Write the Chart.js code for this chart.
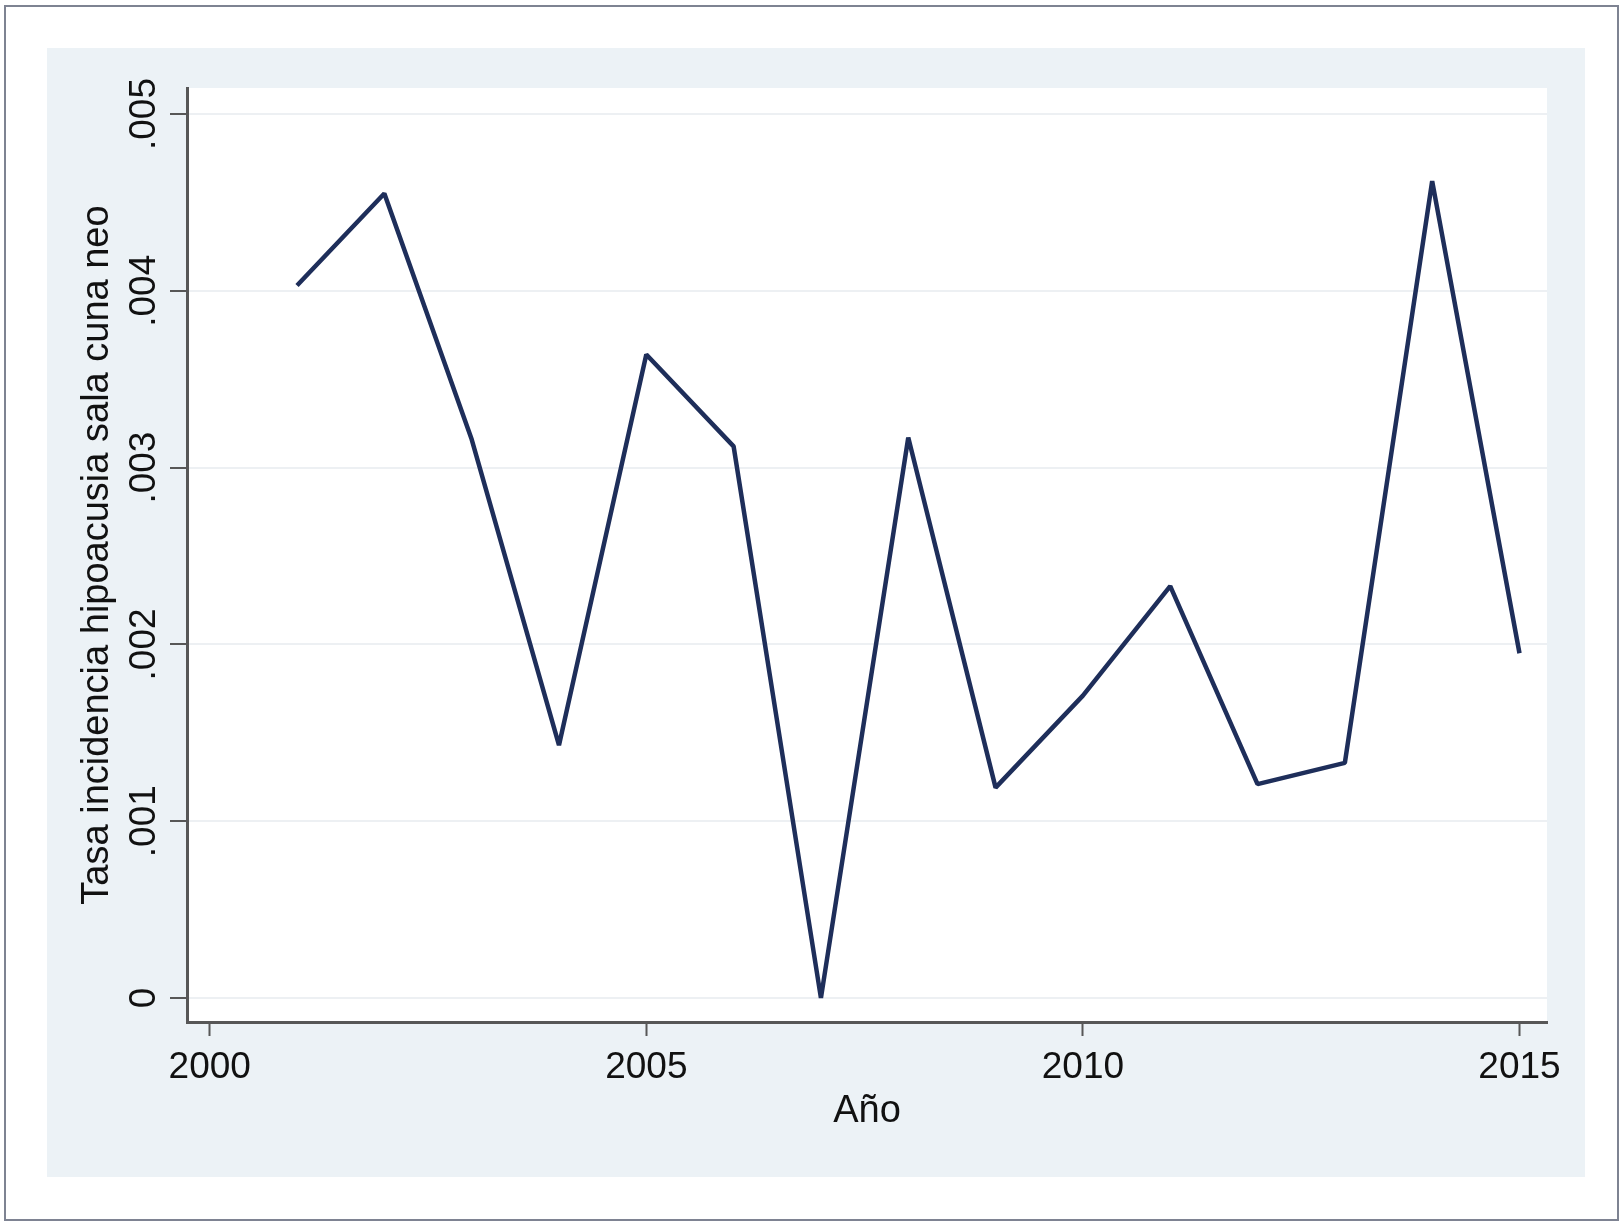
<!DOCTYPE html>
<html>
<head>
<meta charset="utf-8">
<script src="https://cdn.jsdelivr.net/npm/chart.js@4.4.1/dist/chart.umd.min.js"></script>
<style>
  html, body { margin: 0; padding: 0; background: #fff; }
  #frame { position: absolute; left: 4px; top: 5px; width: 1611px; height: 1212px; border: 2px solid #7e8392; }
  #panel { position: absolute; left: 47px; top: 48px; width: 1538px; height: 1129px; background: #ecf2f6; }
  #chart { position: absolute; left: 0; top: 0; }
</style>
</head>
<body>
<div id="frame"></div>
<div id="panel"><canvas id="chart" width="1538" height="1129"></canvas></div>
<script>
// data
const years = [2001, 2002, 2003, 2004, 2005, 2006, 2007, 2008, 2009, 2010, 2011, 2012, 2013, 2014, 2015];
const rates = [0.00403, 0.00455, 0.00316, 0.00143, 0.00364, 0.00312, 0.0, 0.00317, 0.00119, 0.00171, 0.00233, 0.00121, 0.00133, 0.00462, 0.00195];

const xTicks = [2000, 2005, 2010, 2015];
const yTicks = [0, 0.001, 0.002, 0.003, 0.004, 0.005];
const yTickLabels = ['0', '.001', '.002', '.003', '.004', '.005'];

const yTitle = 'Tasa incidencia hipoacusia sala cuna neo';
const xTitle = 'Año';

const axisColor = '#575757';
const font = 'Liberation Sans, Arial, Helvetica, sans-serif';

// white plot region inside the grey panel
const plotBg = {
  id: 'plotBg',
  beforeDraw(chart) {
    const { ctx, chartArea: a } = chart;
    ctx.save();
    ctx.fillStyle = '#ffffff';
    ctx.fillRect(a.left, a.top, a.right - a.left, a.bottom - a.top);
    ctx.restore();
  }
};

new Chart(document.getElementById('chart').getContext('2d'), {
  type: 'line',
  data: {
    datasets: [{
      data: years.map((y, i) => ({ x: y, y: rates[i] })),
      borderColor: '#1e2e5a',
      borderWidth: 4.5,
      borderJoinStyle: 'bevel',
      pointRadius: 0,
      tension: 0,
      fill: false
    }]
  },
  options: {
    responsive: false,
    animation: false,
    devicePixelRatio: 1,
    layout: { padding: { left: 0, top: 40, right: 38, bottom: 0 } },
    plugins: { legend: { display: false }, tooltip: { enabled: false } },
    scales: {
      x: {
        type: 'linear',
        min: 1999.74,
        max: 2015.315,
        afterBuildTicks: s => { s.ticks = xTicks.map(v => ({ value: v })); },
        afterFit: s => { s.height = 155; },
        grid: { drawOnChartArea: false, drawTicks: true, tickLength: 14, tickColor: axisColor, tickWidth: 2 },
        border: { display: true, color: axisColor, width: 3 },
        ticks: {
          autoSkip: false,
          padding: 10,
          color: '#111',
          font: { family: font, size: 37 },
          callback: v => String(v)
        },
        title: {
          display: true,
          text: xTitle,
          color: '#111',
          font: { family: font, size: 38 },
          padding: { top: 0, bottom: 43 }
        }
      },
      y: {
        min: -0.0001357,
        max: 0.005147,
        afterBuildTicks: s => { s.ticks = yTicks.map(v => ({ value: v })); },
        afterFit: s => { s.width = 140; },
        grid: { color: '#edf0f3', lineWidth: 2, tickLength: 17, tickColor: axisColor, tickWidth: 2 },
        border: { display: true, color: axisColor, width: 3 },
        ticks: {
          autoSkip: false,
          minRotation: 90,
          maxRotation: 90,
          crossAlign: 'center',
          padding: -11,
          color: '#111',
          font: { family: font, size: 37 },
          callback: (v, i) => yTickLabels[i]
        },
        title: {
          display: true,
          text: yTitle,
          color: '#111',
          font: { family: font, size: 38 },
          padding: { top: 28, bottom: 0 }
        }
      }
    }
  },
  plugins: [plotBg]
});
</script>
</body>
</html>
